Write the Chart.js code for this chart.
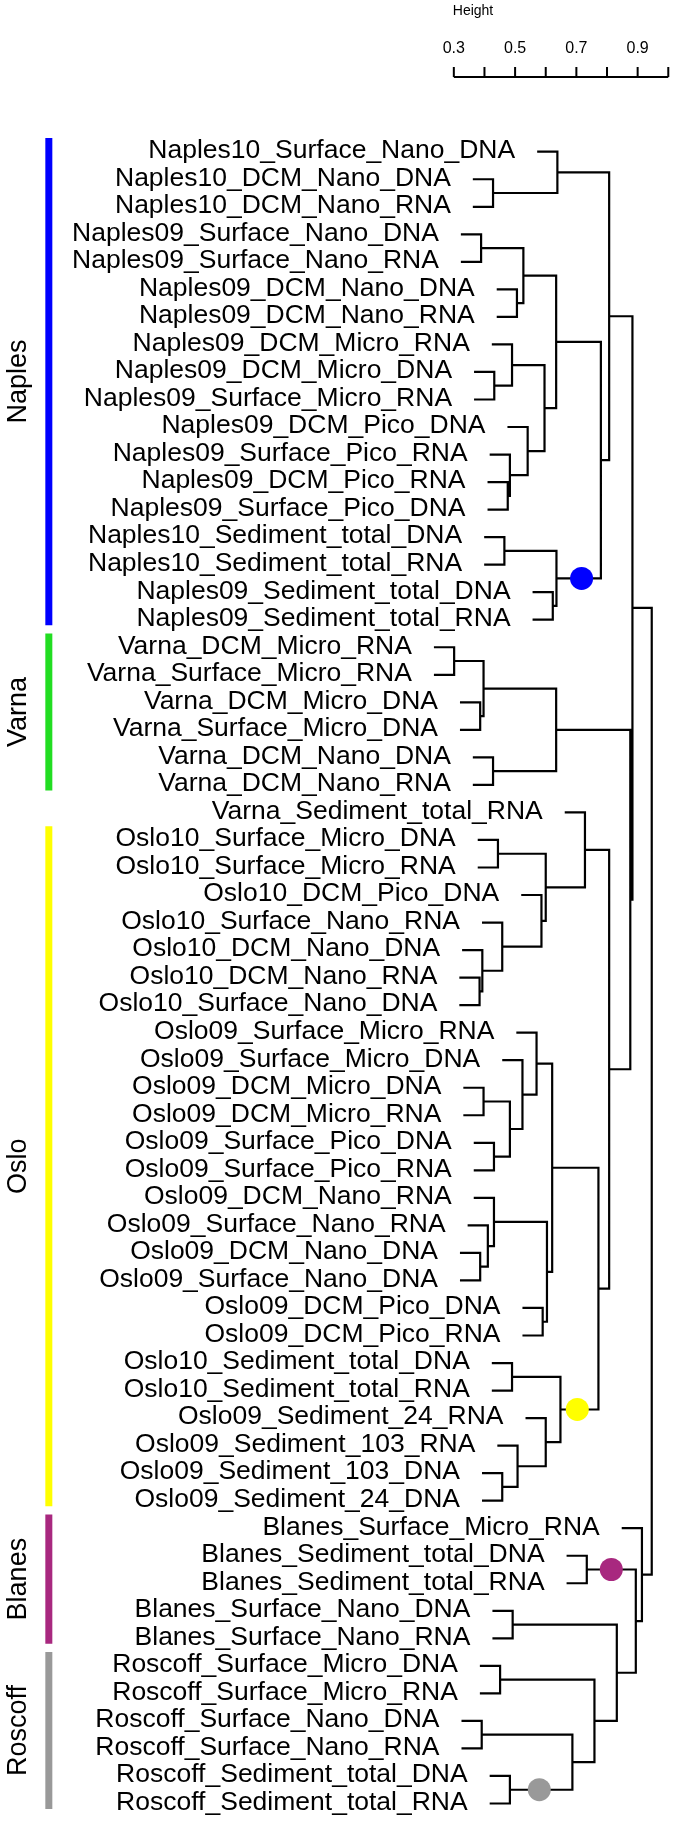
<!DOCTYPE html>
<html>
<head>
<meta charset="utf-8">
<script src="https://cdn.jsdelivr.net/npm/chart.js@4.4.0/dist/chart.umd.min.js"></script>
<style>
  html, body { margin: 0; padding: 0; background: #fff; }
  canvas { display: block; }
</style>
</head>
<body>
<canvas id="chart" width="685" height="1831"></canvas>
<script>

// leaf labels, top to bottom (row 1 .. 61)
const leafLabels = [
    'Naples10_Surface_Nano_DNA', 'Naples10_DCM_Nano_DNA', 'Naples10_DCM_Nano_RNA',
    'Naples09_Surface_Nano_DNA', 'Naples09_Surface_Nano_RNA', 'Naples09_DCM_Nano_DNA',
    'Naples09_DCM_Nano_RNA', 'Naples09_DCM_Micro_RNA', 'Naples09_DCM_Micro_DNA',
    'Naples09_Surface_Micro_RNA', 'Naples09_DCM_Pico_DNA', 'Naples09_Surface_Pico_RNA',
    'Naples09_DCM_Pico_RNA', 'Naples09_Surface_Pico_DNA', 'Naples10_Sediment_total_DNA',
    'Naples10_Sediment_total_RNA', 'Naples09_Sediment_total_DNA', 'Naples09_Sediment_total_RNA',
    'Varna_DCM_Micro_RNA', 'Varna_Surface_Micro_RNA', 'Varna_DCM_Micro_DNA',
    'Varna_Surface_Micro_DNA', 'Varna_DCM_Nano_DNA', 'Varna_DCM_Nano_RNA',
    'Varna_Sediment_total_RNA', 'Oslo10_Surface_Micro_DNA', 'Oslo10_Surface_Micro_RNA',
    'Oslo10_DCM_Pico_DNA', 'Oslo10_Surface_Nano_RNA', 'Oslo10_DCM_Nano_DNA',
    'Oslo10_DCM_Nano_RNA', 'Oslo10_Surface_Nano_DNA', 'Oslo09_Surface_Micro_RNA',
    'Oslo09_Surface_Micro_DNA', 'Oslo09_DCM_Micro_DNA', 'Oslo09_DCM_Micro_RNA',
    'Oslo09_Surface_Pico_DNA', 'Oslo09_Surface_Pico_RNA', 'Oslo09_DCM_Nano_RNA',
    'Oslo09_Surface_Nano_RNA', 'Oslo09_DCM_Nano_DNA', 'Oslo09_Surface_Nano_DNA',
    'Oslo09_DCM_Pico_DNA', 'Oslo09_DCM_Pico_RNA', 'Oslo10_Sediment_total_DNA',
    'Oslo10_Sediment_total_RNA', 'Oslo09_Sediment_24_RNA', 'Oslo09_Sediment_103_RNA',
    'Oslo09_Sediment_103_DNA', 'Oslo09_Sediment_24_DNA', 'Blanes_Surface_Micro_RNA',
    'Blanes_Sediment_total_DNA', 'Blanes_Sediment_total_RNA', 'Blanes_Surface_Nano_DNA',
    'Blanes_Surface_Nano_RNA', 'Roscoff_Surface_Micro_DNA', 'Roscoff_Surface_Micro_RNA',
    'Roscoff_Surface_Nano_DNA', 'Roscoff_Surface_Nano_RNA', 'Roscoff_Sediment_total_DNA',
    'Roscoff_Sediment_total_RNA'
];

// merges, hclust style: negative = leaf row, positive = earlier merge (1-based)
const mergeA = [
    -2, -1, -4, -6, 3, -9, -8, -13, -12, -11,
    7, 5, -15, -17, 13, 12, 2, -19, -21, 18,
    -23, 20, -26, -31, -30, -29, -28, 23, -25, -35,
    -37, 30, -34, -33, -41, -40, -39, -43, 37, 34,
    -45, -49, -48, -47, 41, 40, 29, 22, 17, -52,
    -54, -56, -58, -60, 53, 52, 51, 50, -51, 49
];
const mergeB = [
    -3, 1, -5, -7, 4, -10, 6, -14, 8, 9,
    10, 11, -16, -18, 14, 15, 16, -20, -22, 19,
    -24, 21, -27, -32, 24, 25, 26, 27, 28, -36,
    -38, 31, 32, 33, -42, 35, 36, -44, 38, 39,
    -46, -50, 42, 43, 44, 45, 46, 47, 48, -53,
    -55, -57, -59, -61, 54, 55, 56, 57, 58, 59
];
const mergeHeights = [
    0.428, 0.638, 0.389, 0.506, 0.527, 0.432, 0.490, 0.476, 0.483, 0.541,
    0.596, 0.634, 0.465, 0.623, 0.635, 0.780, 0.807, 0.301, 0.386, 0.397,
    0.428, 0.634, 0.444, 0.384, 0.393, 0.458, 0.586, 0.600, 0.728, 0.397,
    0.431, 0.483, 0.524, 0.570, 0.386, 0.411, 0.431, 0.590, 0.604, 0.621,
    0.490, 0.458, 0.508, 0.600, 0.648, 0.772, 0.807, 0.876, 0.883, 0.734,
    0.492, 0.451, 0.391, 0.483, 0.687, 0.759, 0.832, 0.894, 0.914, 0.946
];

// coloured group bars on the left
const groupNames = ['Naples', 'Varna', 'Oslo', 'Blanes', 'Roscoff'];
const groupFirst = [1, 19, 26, 51, 56];
const groupLast = [18, 24, 50, 55, 61];
const groupColors = ['#0000ff', '#22dd22', '#ffff00', '#a8287f', '#999999'];

// highlighted clusters: merge number, height of the dot, colour
const dotMerges = [15, 45, 50, 54];
const dotHeights = [0.717, 0.703, 0.814, 0.579];
const dotColors = ['#0000ff', '#ffff00', '#a8287f', '#999999'];

// height axis
const heightTicks = [0.3, 0.4, 0.5, 0.6, 0.7, 0.8, 0.9, 1.0];
const heightTickLabels = ['0.3', '', '0.5', '', '0.7', '', '0.9', ''];


const FONT = '"Liberation Sans", Arial, Helvetica, sans-serif';
const hang = 0.066;      // leaf stub length, height units
const barX = -1.022;     // x of the group bars, height units
const rowTop = 142, rowStep = 27.88;

// walk the merges: y of a merge is mid of its children
const mergeY = [];
const leafStart = [];
const treePoints = [];
function nodeY (k) { return k < 0 ? -k : mergeY[k - 1]; }
function nodeX (k, h) { return k < 0 ? h - hang : mergeHeights[k - 1]; }
for (let i = 0; i < mergeHeights.length; ++i) {
    const a = mergeA[i], b = mergeB[i], h = mergeHeights[i];
    const ya = nodeY(a), yb = nodeY(b);
    const xa = nodeX(a, h), xb = nodeX(b, h);
    mergeY.push((ya + yb) / 2);
    if (a < 0) leafStart[-a] = xa;
    if (b < 0) leafStart[-b] = xb;
    treePoints.push({ x: xa, y: ya }, { x: h, y: ya }, { x: h, y: yb }, { x: xb, y: yb }, { x: null, y: null });
}

const datasets = [];
datasets.push({
    data: dotMerges.map((m, i) => ({ x: dotHeights[i], y: mergeY[m - 1] })),
    showLine: false,
    pointRadius: 11.5,
    pointBorderWidth: 0,
    pointBackgroundColor: dotColors,
    clip: false
});
datasets.push({
    data: treePoints,
    borderColor: '#000',
    borderWidth: 2.2,
    pointRadius: 0,
    spanGaps: false,
    tension: 0,
    borderJoinStyle: 'miter',
    clip: false
});
groupNames.forEach((g, i) => {
    datasets.push({
        data: [{ x: barX, y: groupFirst[i] - 0.5 }, { x: barX, y: groupLast[i] + 0.2 }],
        borderColor: groupColors[i],
        borderWidth: 7,
        borderCapStyle: 'butt',
        pointRadius: 0,
        clip: false
    });
});

// text: leaf labels, group names, height axis
const textPlugin = {
    id: 'treeText',
    afterDatasetsDraw (chart) {
        const { ctx, scales: { x, y } } = chart;
        ctx.save();
        ctx.fillStyle = '#000';

        ctx.font = '26.5px ' + FONT;
        ctx.textAlign = 'right';
        ctx.textBaseline = 'middle';
        leafLabels.forEach((lab, i) => {
            ctx.fillText(lab, x.getPixelForValue(leafStart[i + 1]) - 22, y.getPixelForValue(i + 1) - 1);
        });

        ctx.textAlign = 'center';
        ctx.textBaseline = 'alphabetic';
        ctx.font = '27px ' + FONT;
        groupNames.forEach((g, i) => {
            const cy = (y.getPixelForValue(groupFirst[i] - 0.5) + y.getPixelForValue(groupLast[i] + 0.2)) / 2;
            ctx.save();
            ctx.translate(26, cy);
            ctx.rotate(-Math.PI / 2);
            ctx.fillText(g, 0, 0);
            ctx.restore();
        });

        const axY = 77;
        ctx.strokeStyle = '#000';
        ctx.lineWidth = 2;
        ctx.beginPath();
        ctx.moveTo(x.getPixelForValue(heightTicks[0]), axY);
        ctx.lineTo(x.getPixelForValue(heightTicks[heightTicks.length - 1]), axY);
        for (const t of heightTicks) {
            const px = x.getPixelForValue(t);
            ctx.moveTo(px, axY);
            ctx.lineTo(px, axY - 10);
        }
        ctx.stroke();
        ctx.font = '16px ' + FONT;
        ctx.textBaseline = 'middle';
        heightTicks.forEach((t, i) => {
            if (heightTickLabels[i]) ctx.fillText(heightTickLabels[i], x.getPixelForValue(t), 49);
        });
        ctx.font = '14px ' + FONT;
        ctx.fillText('Height', 473, 11);
        ctx.restore();
    }
};

new Chart(document.getElementById('chart'), {
    type: 'line',
    data: { datasets: datasets },
    options: {
        responsive: false,
        animation: false,
        devicePixelRatio: 1,
        layout: { padding: 0 },
        plugins: { legend: { display: false }, tooltip: { enabled: false } },
        scales: {
            x: { type: 'linear', display: false, min: 0.3 - 457.7 / 317, max: 0.3 + (685 - 457.7) / 317 },
            y: { type: 'linear', display: false, reverse: true,
                 min: 1 - rowTop / rowStep, max: 1 + (1831 - rowTop) / rowStep }
        }
    },
    plugins: [textPlugin]
});
</script>
</body>
</html>
